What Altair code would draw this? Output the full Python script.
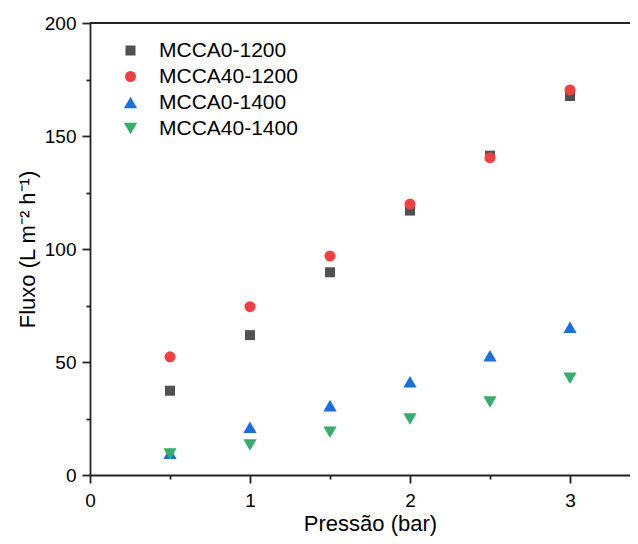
import altair as alt
import pandas as pd

# ---- data ----
pressao = [0.5, 1.0, 1.5, 2.0, 2.5, 3.0]
series_names = ["MCCA0-1200", "MCCA40-1200", "MCCA0-1400", "MCCA40-1400"]
mcca0_1200 = [37.3, 61.9, 89.7, 117.0, 141.3, 167.7]
mcca40_1200 = [52.3, 74.5, 96.9, 119.9, 140.4, 170.4]
mcca0_1400 = [9.6, 21.1, 30.7, 41.3, 52.8, 65.4]
mcca40_1400 = [9.3, 13.3, 18.9, 24.8, 32.3, 42.8]

x_ticks = [0, 0.5, 1, 1.5, 2, 2.5, 3]
y_ticks = [0, 25, 50, 75, 100, 125, 150, 175, 200]

# ---- styles ----
colors = ["#515151", "#F14040", "#1A6FDF", "#37AD6B"]
shapes = ["square", "circle", "triangle-up", "triangle-down"]
sizes = [100, 121, 177, 177]
FONT = "Liberation Sans"
AX = "#222222"

rows = []
for name, vals in zip(series_names, [mcca0_1200, mcca40_1200, mcca0_1400, mcca40_1400]):
    for p, v in zip(pressao, vals):
        rows.append({"Pressao": p, "Fluxo": v, "Serie": name})
df = pd.DataFrame(rows)

legend = alt.Legend(
    title=None, orient="none", legendX=30, legendY=17,
    labelFont=FONT, labelFontSize=21, labelColor="#000000",
    labelOffset=18, rowPadding=4, padding=0, symbolStrokeWidth=0,
    labelLimit=400,
)

x_axis = alt.Axis(
    values=x_ticks,
    labelExpr="datum.value % 1 === 0 ? format(datum.value, 'd') : ''",
    tickSize={"condition": {"test": "datum.value % 1 !== 0", "value": 4}, "value": 8},
    labelPadding=8, labelFlush=False, labelOverlap=False,
    title="Pressão (bar)", titleX=280, titleY=55, titleAlign="center",
    titleBaseline="alphabetic", grid=False,
)
y_axis = alt.Axis(
    values=y_ticks,
    labelExpr="datum.value % 50 === 0 ? format(datum.value, 'd') : ''",
    tickSize={"condition": {"test": "datum.value % 50 !== 0", "value": 4}, "value": 8},
    labelPadding=6, labelFlush=False, labelOverlap=False,
    title="Fluxo (L m\u207b\u00b2 h\u207b\u00b9)", titleX=-56, titleY=226,
    titleAngle=270, titleAlign="center", titleBaseline="alphabetic", grid=False,
)

points = alt.Chart(df).mark_point(filled=True, opacity=1, strokeWidth=0).encode(
    x=alt.X("Pressao:Q", scale=alt.Scale(domain=[0, 3.375], nice=False, zero=False), axis=x_axis),
    y=alt.Y("Fluxo:Q", scale=alt.Scale(domain=[0, 200], nice=False), axis=y_axis),
    color=alt.Color("Serie:N", scale=alt.Scale(domain=series_names, range=colors), legend=legend),
    shape=alt.Shape("Serie:N", scale=alt.Scale(domain=series_names, range=shapes), legend=legend),
    size=alt.Size("Serie:N", scale=alt.Scale(type="ordinal", domain=series_names, range=sizes), legend=legend),
)

border = alt.Chart(alt.Data(values=[{"v": 200}])).mark_rule(color=AX, strokeWidth=1.8).encode(
    y=alt.Y("v:Q")
)

chart = alt.layer(points, border).properties(
    width=540, height=452,
    autosize=alt.AutoSizeParams(type="none"),
    padding={"left": 82, "top": 15, "right": 0, "bottom": 61},
).configure_view(stroke=None).configure_axis(
    labelFont=FONT, labelFontSize=19, labelColor="#000000",
    titleFont=FONT, titleFontSize=22, titleFontWeight="normal", titleColor="#000000",
    domainColor=AX, domainWidth=1.8, tickColor=AX, tickWidth=1.8,
)

chart.save("out.html", embed_options={"renderer": "svg", "actions": False})
